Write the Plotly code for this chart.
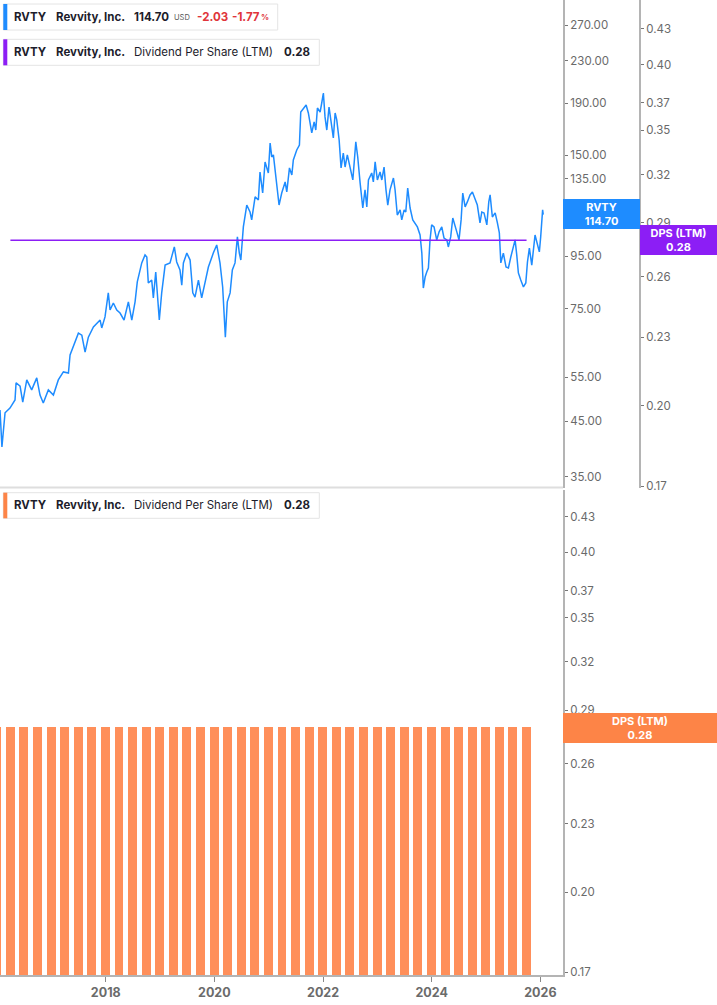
import plotly.graph_objects as go

# Daily close (USD)
price_dates = [
    "2016-01-21", "2016-02-03", "2016-02-24", "2016-03-28", "2016-05-01", "2016-05-08",
    "2016-06-04", "2016-06-22", "2016-07-19", "2016-08-21", "2016-09-24", "2016-10-16",
    "2016-11-07", "2016-12-11", "2017-01-14", "2017-02-16", "2017-03-22", "2017-04-25",
    "2017-05-06", "2017-05-28", "2017-07-01", "2017-07-24", "2017-08-15", "2017-09-06",
    "2017-10-10", "2017-11-24", "2017-12-05", "2017-12-27", "2018-01-18", "2018-01-30",
    "2018-02-21", "2018-03-16", "2018-04-07", "2018-05-04", "2018-06-02", "2018-06-25",
    "2018-07-17", "2018-08-01", "2018-08-31", "2018-09-22", "2018-10-04", "2018-10-14",
    "2018-11-06", "2018-11-17", "2018-12-03", "2018-12-27", "2019-01-12", "2019-02-04",
    "2019-03-09", "2019-04-07", "2019-04-23", "2019-05-15", "2019-05-27", "2019-06-07",
    "2019-06-30", "2019-07-22", "2019-08-09", "2019-08-24", "2019-09-16", "2019-10-08",
    "2019-10-31", "2019-11-22", "2019-12-25", "2020-01-17", "2020-02-08", "2020-02-26",
    "2020-03-15", "2020-03-28", "2020-04-16", "2020-05-01", "2020-05-19", "2020-06-04",
    "2020-06-17", "2020-06-27", "2020-07-14", "2020-08-06", "2020-08-28", "2020-09-08",
    "2020-10-01", "2020-10-23", "2020-11-03", "2020-11-21", "2020-12-07", "2020-12-29",
    "2021-01-10", "2021-01-21", "2021-02-01", "2021-02-12", "2021-02-24", "2021-03-11",
    "2021-03-29", "2021-04-21", "2021-05-02", "2021-05-20", "2021-06-05", "2021-06-15",
    "2021-07-08", "2021-07-26", "2021-08-04", "2021-08-22", "2021-09-09", "2021-09-24",
    "2021-10-06", "2021-10-17", "2021-11-02", "2021-11-13", "2021-11-24", "2021-12-12",
    "2021-12-23", "2022-01-03", "2022-01-14", "2022-01-26", "2022-02-10", "2022-02-24",
    "2022-03-11", "2022-03-23", "2022-04-03", "2022-04-19", "2022-05-02", "2022-05-17",
    "2022-05-29", "2022-06-13", "2022-07-02", "2022-07-20", "2022-08-09", "2022-08-22",
    "2022-09-07", "2022-09-25", "2022-10-10", "2022-10-22", "2022-11-02", "2022-11-24",
    "2022-12-05", "2022-12-17", "2023-01-01", "2023-01-19", "2023-01-31", "2023-02-15",
    "2023-02-28", "2023-03-12", "2023-03-27", "2023-04-08", "2023-04-19", "2023-04-30",
    "2023-05-15", "2023-06-03", "2023-06-14", "2023-06-30", "2023-07-11", "2023-07-24",
    "2023-08-09", "2023-08-27", "2023-09-11", "2023-09-27", "2023-10-15", "2023-10-27",
    "2023-11-06", "2023-11-18", "2023-11-29", "2023-12-10", "2023-12-21", "2024-01-01",
    "2024-01-17", "2024-02-04", "2024-02-20", "2024-03-09", "2024-03-24", "2024-04-12",
    "2024-04-22", "2024-05-08", "2024-05-22", "2024-06-06", "2024-06-18", "2024-07-03",
    "2024-07-17", "2024-07-28", "2024-08-13", "2024-08-28", "2024-09-15", "2024-10-01",
    "2024-10-19", "2024-11-03", "2024-11-21", "2024-12-03", "2024-12-18", "2025-01-06",
    "2025-01-19", "2025-01-28", "2025-02-12", "2025-03-03", "2025-03-18", "2025-03-31",
    "2025-04-10", "2025-04-27", "2025-05-15", "2025-05-31", "2025-06-16", "2025-06-30",
    "2025-07-15", "2025-07-26", "2025-08-06", "2025-08-22", "2025-09-09", "2025-09-25",
    "2025-10-06", "2025-10-19", "2025-11-04", "2025-11-26", "2025-12-12", "2025-12-25",
    "2026-01-03", "2026-01-16", "2026-01-20",
]
price_close = [
    47.4, 40.1, 46.8, 47.8, 49.6, 53.6,
    52.8, 49.1, 54.3, 51.9, 54.8, 50.7,
    48.9, 51.9, 50.7, 54.3, 56.3, 56.0,
    60.8, 63.0, 67.1, 66.5, 61.6, 65.9,
    69.0, 71.2, 68.7, 72.2, 80.5, 74.5,
    76.9, 74.5, 73.5, 71.2, 77.3, 71.2,
    77.3, 84.6, 92.2, 95.6, 94.7, 84.2,
    85.3, 78.7, 88.5, 71.2, 80.5, 91.3,
    92.2, 99.1, 92.6, 89.3, 83.4, 92.2,
    96.4, 93.4, 80.5, 79.0, 85.3, 78.7,
    85.3, 90.5, 96.4, 100.0, 92.2, 82.7,
    65.9, 77.3, 80.5, 89.3, 92.2, 103.7,
    96.4, 93.4, 108.5, 119.8, 116.1, 112.0,
    124.3, 122.6, 139.1, 126.5, 145.6, 138.5,
    158.6, 148.9, 150.3, 140.4, 128.3, 119.8,
    126.5, 133.0, 127.1, 141.7, 137.3, 146.9,
    153.7, 157.2, 182.5, 185.9, 188.4, 181.7,
    173.7, 166.0, 174.5, 168.2, 185.9, 182.5,
    190.1, 198.9, 178.5, 168.2, 186.7, 173.7,
    162.3, 181.7, 176.1, 160.8, 141.7, 151.6,
    142.3, 150.3, 142.3, 134.2, 159.4, 148.9,
    132.4, 118.2, 128.3, 118.8, 134.2, 138.5,
    133.0, 145.6, 134.2, 139.1, 134.2, 142.3,
    128.3, 119.8, 128.3, 132.4, 135.4, 128.3,
    114.5, 117.2, 112.0, 117.2, 116.1, 129.4,
    118.2, 112.0, 110.5, 108.5, 104.6, 96.4,
    82.3, 86.5, 88.5, 90.1, 102.3, 109.5,
    108.5, 102.3, 106.1, 108.5, 103.2, 102.3,
    99.1, 103.7, 113.0, 108.5, 106.1, 102.3,
    112.0, 126.5, 118.8, 121.5, 125.4, 127.1,
    122.6, 119.8, 110.5, 116.1, 115.6, 109.5,
    121.5, 125.4, 113.5, 115.6, 110.5, 105.6,
    92.2, 96.4, 90.5, 90.1, 94.7, 97.8,
    102.3, 95.6, 88.1, 85.3, 82.7, 84.2,
    92.6, 98.6, 91.3, 104.6, 100.9, 96.9,
    103.7, 117.2, 114.70,
]

# Dividend per share, last twelve months, quarterly
dps_dates = [
    "2015-12-31", "2016-03-31", "2016-06-30", "2016-09-30", "2016-12-31",
    "2017-03-31", "2017-06-30", "2017-09-30", "2017-12-31",
    "2018-03-31", "2018-06-30", "2018-09-30", "2018-12-31",
    "2019-03-31", "2019-06-30", "2019-09-30", "2019-12-31",
    "2020-03-31", "2020-06-30", "2020-09-30", "2020-12-31",
    "2021-03-31", "2021-06-30", "2021-09-30", "2021-12-31",
    "2022-03-31", "2022-06-30", "2022-09-30", "2022-12-31",
    "2023-03-31", "2023-06-30", "2023-09-30", "2023-12-31",
    "2024-03-31", "2024-06-30", "2024-09-30", "2024-12-31",
    "2025-03-31", "2025-06-30", "2025-09-30",
]
dps_ltm = [
    0.28, 0.28, 0.28, 0.28, 0.28,
    0.28, 0.28, 0.28, 0.28,
    0.28, 0.28, 0.28, 0.28,
    0.28, 0.28, 0.28, 0.28,
    0.28, 0.28, 0.28, 0.28,
    0.28, 0.28, 0.28, 0.28,
    0.28, 0.28, 0.28, 0.28,
    0.28, 0.28, 0.28, 0.28,
    0.28, 0.28, 0.28, 0.28,
    0.28, 0.28, 0.28,
]

# 115.00 sits under the RVTY price tag in the original, so it is left out
price_ticks = [35, 45, 55, 75, 95, 135, 150, 190, 230, 270]
dps_ticks = [0.17, 0.20, 0.23, 0.26, 0.29, 0.32, 0.35, 0.37, 0.40, 0.43]

W, H = 717, 1005
H_REF = 1000  # the page comes out a touch shorter than the window, measure against this
BLUE = "#1e8cff"
PURPLE = "#8c1ef5"
ORANGE = "#ff8f5a"
ORANGE_TAG = "#fd8447"
AXIS = "#b4b4b4"
TICK_TXT = "#6a6a6a"
FONT = "Inter"


def px(x):
    return x / W


def py(y):
    return 1 - y / H_REF


fig = go.Figure()

fig.add_trace(go.Scatter(x=price_dates, y=price_close, mode="lines",
                         line=dict(color=BLUE, width=1.5),
                         xaxis="x", yaxis="y", name="RVTY"))
fig.add_trace(go.Scatter(x=dps_dates[1:], y=dps_ltm[1:], mode="lines",
                         line=dict(color=PURPLE, width=1.4),
                         xaxis="x", yaxis="y2", name="DPS (LTM)"))
fig.add_trace(go.Bar(x=dps_dates, y=dps_ltm, marker=dict(color=ORANGE, line=dict(width=0)),
                     width=60 * 86400000, xaxis="x2", yaxis="y3", name="DPS (LTM)"))

x_range = ["2016-01-21", "2026-06-02"]
plot_right = px(563)
tickfont = dict(family=FONT, size=11.5, color=TICK_TXT)

fig.update_layout(
    width=W, height=H, autosize=False,
    margin=dict(l=0, r=0, t=0, b=0),
    paper_bgcolor="white", plot_bgcolor="white",
    showlegend=False,
    bargap=0,
    xaxis=dict(domain=[0, plot_right], anchor="y", type="date", range=x_range,
               showticklabels=False, showline=False, showgrid=False,
               zeroline=False, ticks=""),
    yaxis=dict(domain=[py(488), 1], anchor="x", side="right", type="log",
               range=[1.5224, 2.4814], tickvals=price_ticks, tickformat=".2f",
               showline=True, linecolor=AXIS, linewidth=2, showgrid=False,
               zeroline=False, ticks="outside", ticklen=3, tickcolor="#777",
               tickfont=tickfont),
    yaxis2=dict(overlaying="y", anchor="free", position=px(640), side="right",
                type="log", range=[-0.7713, -0.3410], tickvals=dps_ticks,
                tickformat=".2f", showline=True, linecolor=AXIS, linewidth=2,
                showgrid=False, zeroline=False, ticks="outside", ticklen=3,
                tickcolor="#777", tickfont=tickfont),
    xaxis2=dict(domain=[0, plot_right], anchor="y3", type="date", range=x_range,
                tick0="2018-01-01", dtick="M24", tickformat="%Y",
                showline=True, linecolor=AXIS, linewidth=2, showgrid=False,
                zeroline=False, ticks="outside", ticklen=5, tickcolor="#888",
                tickfont=dict(family=FONT, size=12.5, color="#6b6b6b", weight="bold")),
    yaxis3=dict(domain=[py(975), py(490)], anchor="x2", side="right", type="log",
                range=[-0.7721, -0.3427], tickvals=dps_ticks, tickformat=".2f",
                showline=True, linecolor=AXIS, linewidth=2, showgrid=False,
                zeroline=False, ticks="outside", ticklen=3, tickcolor="#777",
                tickfont=tickfont),
)

shapes = []
annots = []

# panel separator
shapes.append(dict(type="line", xref="paper", yref="paper",
                   x0=0, x1=plot_right, y0=py(487.5), y1=py(487.5),
                   line=dict(color="#dedede", width=2)))


def legend_box(y0, y1, x1, color, parts):
    shapes.append(dict(type="rect", xref="paper", yref="paper",
                       x0=px(3.3), x1=px(x1), y0=py(y1), y1=py(y0),
                       line=dict(color="#e4e4e4", width=1), fillcolor="white"))
    shapes.append(dict(type="rect", xref="paper", yref="paper",
                       x0=px(3.3), x1=px(7.3), y0=py(y1), y1=py(y0),
                       line=dict(width=0), fillcolor=color))
    yc = py((y0 + y1) / 2)
    for x, txt, size, col in parts:
        annots.append(dict(xref="paper", yref="paper", x=px(x), y=yc,
                           xanchor="left", yanchor="middle", showarrow=False,
                           text=txt, font=dict(family=FONT, size=size, color=col)))


DARK = "#1d1d2b"
RED = "#e0353b"
legend_box(4, 30, 277.7, BLUE, [
    (12, "<b>RVTY</b>", 11.5, DARK),
    (54, "<b>Revvity, Inc.</b>", 11.5, DARK),
    (132, "<b>114.70</b>", 11.5, DARK),
    (172, "USD", 7.5, "#555"),
    (195, "<b>-2.03</b>", 11.5, RED),
    (230, "<b>-1.77</b>", 11.5, RED),
    (259, "<b>%</b>", 8, RED),
])
dps_parts = [
    (12, "<b>RVTY</b>", 11.5, DARK),
    (54, "<b>Revvity, Inc.</b>", 11.5, DARK),
    (132, "Dividend Per Share (LTM)", 11.5, DARK),
    (282, "<b>0.28</b>", 11.5, DARK),
]
legend_box(39.3, 65.3, 319.3, PURPLE, dps_parts)
legend_box(492.7, 518.3, 319.3, ORANGE_TAG, dps_parts)


def value_tag(x0, x1, y0, y1, color, text):
    annots.append(dict(xref="paper", yref="paper", x=px((x0 + x1) / 2),
                       y=py((y0 + y1) / 2), xanchor="center", yanchor="middle",
                       showarrow=False, text=text, bgcolor=color,
                       width=x1 - x0, height=y1 - y0, borderpad=0, borderwidth=0,
                       font=dict(family=FONT, size=11, color="white")))


value_tag(563, 640, 199, 229, BLUE, "<b>RVTY</b><br><b>114.70</b>")
value_tag(640, 717, 225, 255, PURPLE, "<b>DPS (LTM)</b><br><b>0.28</b>")
value_tag(563, 717, 713, 743, ORANGE_TAG, "<b>DPS (LTM)</b><br><b>0.28</b>")

fig.update_layout(shapes=shapes, annotations=annots)

# the page body has a default 8px margin; drop it so the figure fills the window
fig.write_html("out.html", config={"displayModeBar": False},
               post_script="document.body.style.margin='0';document.body.style.overflow='hidden';")
